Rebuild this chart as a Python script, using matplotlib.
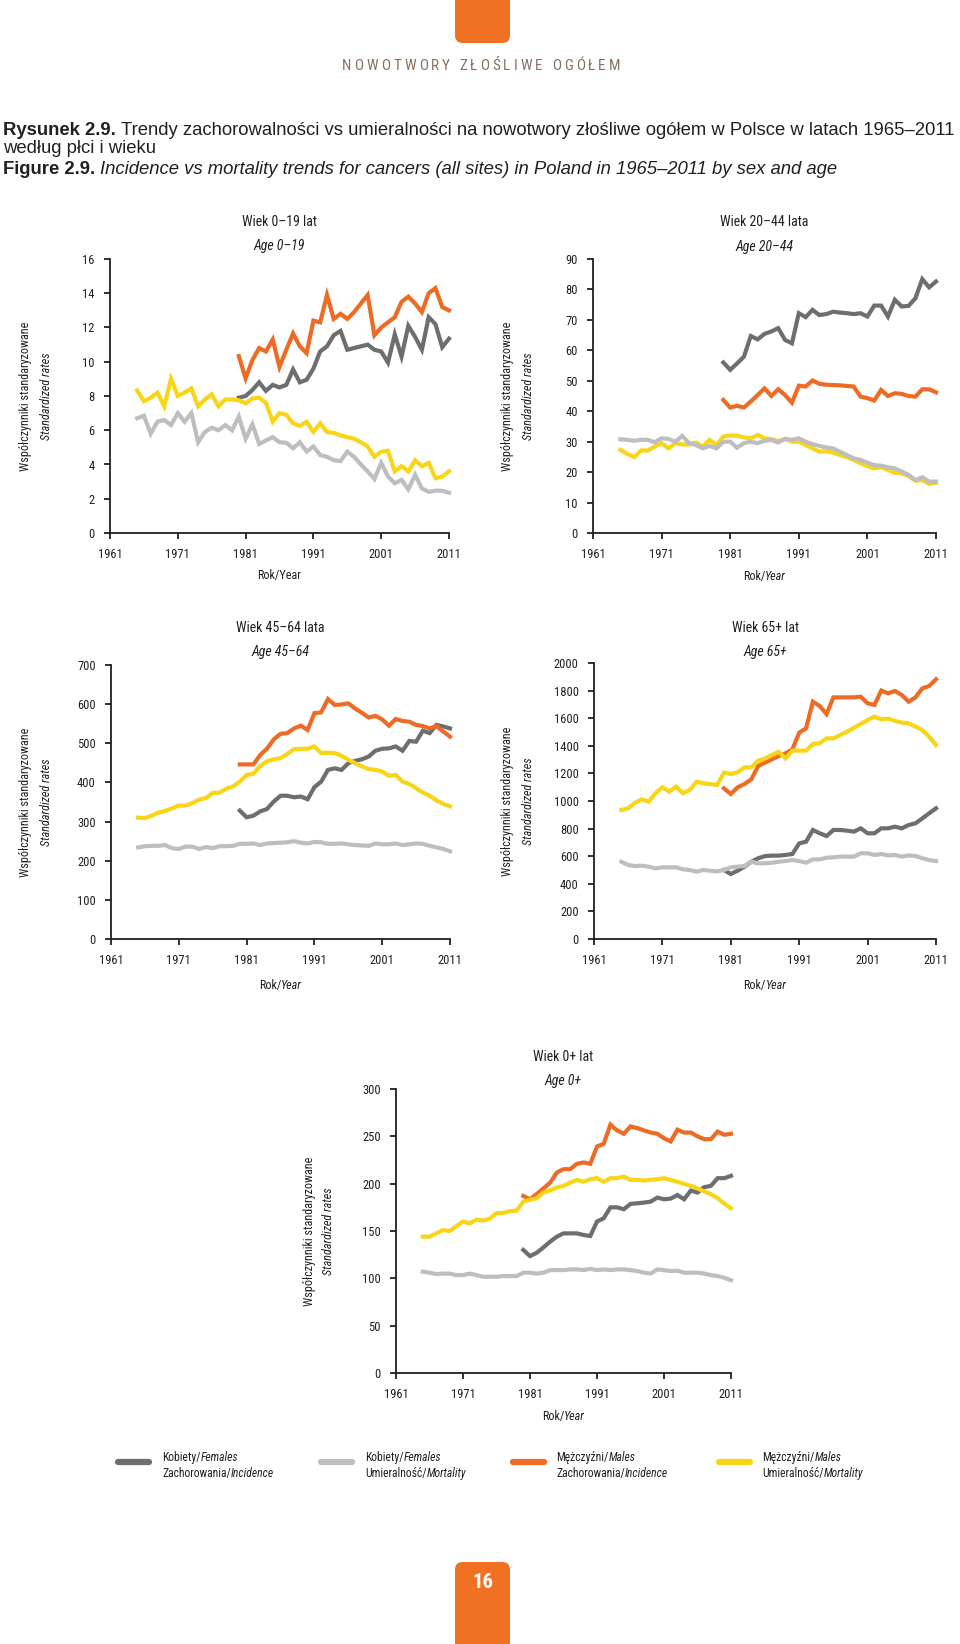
import matplotlib
matplotlib.use('Agg')
import matplotlib.pyplot as plt
from matplotlib import font_manager as fm
from matplotlib.patches import FancyBboxPatch
from matplotlib.lines import Line2D

# ---------------- data ----------------
years_mort = list(range(1965, 2012))   # 47 years
years_inc = list(range(1980, 2012))    # 32 years

# Age 0-19
f_inc_0_19 = [7.9, 8.0, 8.35, 8.8, 8.3, 8.65, 8.5, 8.65, 9.55, 8.8, 8.95, 9.6, 10.6, 10.9, 11.55, 11.8,
              10.7, 10.8, 10.9, 11.0, 10.7, 10.6, 9.95, 11.6, 10.3, 12.1, 11.45, 10.7, 12.6, 12.2, 10.85, 11.35]
f_mort_0_19 = [6.7, 6.85, 5.8, 6.5, 6.6, 6.3, 7.0, 6.5, 7.0, 5.3, 5.9, 6.15, 6.0, 6.3, 6.0,
               6.8, 5.5, 6.35, 5.2, 5.4, 5.6, 5.3, 5.27, 4.95, 5.3, 4.75, 5.05, 4.55, 4.45, 4.25, 4.2,
               4.75, 4.45, 4.0, 3.6, 3.15, 4.1, 3.3, 2.9, 3.1, 2.55, 3.4, 2.6, 2.4, 2.47, 2.47, 2.35]
m_inc_0_19 = [10.33, 9.03, 10.1, 10.8, 10.6, 11.3, 9.7, 10.7, 11.65, 10.9, 10.5, 12.4, 12.3, 13.9, 12.5, 12.8,
              12.5, 12.9, 13.4, 13.9, 11.55, 12.0, 12.3, 12.6, 13.5, 13.8, 13.4, 12.9, 14.0, 14.3, 13.2, 13.0]
m_mort_0_19 = [8.33, 7.7, 7.9, 8.2, 7.4, 9.0, 8.0, 8.2, 8.45, 7.4, 7.8, 8.1, 7.4, 7.8, 7.8,
               7.75, 7.57, 7.85, 7.9, 7.6, 6.5, 7.0, 6.9, 6.4, 6.25, 6.5, 5.9, 6.4, 5.9, 5.85, 5.7,
               5.6, 5.5, 5.3, 5.05, 4.45, 4.75, 4.8, 3.6, 3.9, 3.6, 4.25, 3.9, 4.1, 3.2, 3.3, 3.6]

# Age 20-44
f_inc_20_44 = [56.0, 53.6, 55.7, 57.9, 64.7, 63.6, 65.4, 66.2, 67.3, 63.4, 62.3, 72.2, 70.9, 73.3, 71.6, 71.9,
               72.7, 72.4, 72.2, 71.9, 72.2, 71.1, 74.7, 74.7, 71.1, 76.6, 74.4, 74.6, 77.1, 83.4, 80.7, 82.6]
f_mort_20_44 = [30.8, 30.6, 30.3, 30.6, 30.6, 29.8, 31.1, 30.9, 30.0, 31.9, 29.5, 28.9, 27.8, 28.6, 27.8,
                30.0, 30.0, 28.0, 29.5, 30.0, 29.5, 30.3, 30.6, 29.7, 30.9, 30.6, 31.1, 30.0, 29.2, 28.6, 28.1,
                27.8, 26.7, 25.6, 24.5, 24.0, 23.1, 22.3, 22.1, 21.6, 21.2, 20.2, 19.1, 17.4, 18.3, 16.9, 16.9]
m_inc_20_44 = [43.7, 41.2, 41.8, 41.2, 43.2, 45.3, 47.5, 45.0, 47.2, 45.3, 42.8, 48.4, 48.1, 50.1, 49.0, 48.7,
               48.6, 48.5, 48.3, 48.1, 44.8, 44.3, 43.5, 47.0, 45.0, 45.9, 45.7, 45.0, 44.8, 47.2, 47.2, 46.2]
m_mort_20_44 = [27.3, 26.0, 24.9, 27.1, 27.1, 28.4, 29.5, 27.8, 29.5, 29.1, 29.1, 29.7, 28.4, 30.6, 28.9,
                31.7, 32.0, 32.0, 31.4, 31.1, 32.2, 31.1, 30.8, 30.2, 30.9, 30.0, 30.0, 28.9, 27.8, 26.7, 26.9,
                26.4, 25.6, 24.9, 24.0, 22.9, 22.0, 21.2, 21.6, 20.7, 19.8, 19.6, 18.7, 17.2, 17.4, 16.1, 16.5]

# Age 45-64
f_inc_45_64 = [328, 311, 315, 326, 332, 351, 366, 366, 362, 364, 357, 388, 402, 432, 436, 432,
               449, 455, 459, 466, 481, 486, 487, 492, 481, 506, 504, 532, 526, 547, 543, 538]
f_mort_45_64 = [234, 237, 238, 238, 240, 232, 230, 236, 236, 230, 235, 232, 237, 237, 238,
                243, 243, 244, 240, 244, 245, 246, 247, 250, 246, 244, 248, 247, 243, 243, 244,
                242, 240, 239, 238, 244, 242, 242, 244, 240, 242, 244, 243, 238, 234, 230, 224]
m_inc_45_64 = [446, 446, 446, 470, 486, 510, 524, 526, 538, 545, 534, 577, 579, 613, 598, 599,
               602, 589, 578, 566, 570, 561, 545, 562, 557, 555, 547, 544, 538, 544, 530, 517]
m_mort_45_64 = [310, 309, 315, 323, 327, 334, 341, 341, 347, 356, 360, 373, 374, 384, 390,
                402, 419, 422, 442, 454, 459, 462, 473, 485, 486, 486, 492, 475, 476, 475, 468,
                458, 449, 441, 434, 432, 428, 417, 419, 402, 396, 385, 374, 366, 354, 345, 339]

# Age 65+
f_inc_65 = [500, 471, 495, 524, 560, 585, 601, 604, 604, 609, 616, 693, 705, 790, 766, 746,
            790, 790, 785, 778, 802, 766, 766, 802, 802, 814, 802, 826, 838, 874, 911, 947]
f_mort_65 = [560, 536, 529, 531, 524, 512, 519, 519, 519, 505, 500, 488, 500, 495, 490,
             500, 519, 524, 529, 560, 548, 548, 553, 560, 565, 572, 565, 553, 577, 577, 589,
             592, 597, 597, 597, 621, 621, 609, 616, 606, 609, 597, 606, 601, 585, 572, 565]
m_inc_65 = [1092, 1051, 1099, 1123, 1157, 1254, 1278, 1302, 1326, 1345, 1374, 1495, 1527, 1720, 1688, 1630,
            1751, 1751, 1751, 1751, 1756, 1708, 1696, 1800, 1780, 1797, 1768, 1720, 1751, 1816, 1833, 1882]
m_mort_65 = [935, 947, 988, 1012, 995, 1056, 1099, 1068, 1104, 1056, 1080, 1140, 1128, 1123, 1116,
             1205, 1196, 1208, 1244, 1244, 1292, 1309, 1333, 1357, 1309, 1365, 1365, 1365, 1413, 1418, 1454,
             1454, 1478, 1502, 1531, 1558, 1587, 1611, 1592, 1597, 1580, 1568, 1563, 1539, 1514, 1466, 1406]

# Age 0+
f_inc_0 = [130, 123.5, 127, 132.7, 138.7, 144, 147.5, 147.5, 147.5, 145.8, 144.7, 160, 163.4, 175, 175, 173,
           178.6, 179.3, 180, 181, 185.3, 183.5, 184.2, 188, 183.5, 192.7, 190.6, 196.3, 197.7, 205.8, 205.8, 208.3]
f_mort_0 = [107, 106, 104.5, 105, 105, 103.4, 103.4, 105, 103.4, 101.7, 101.7, 101.7, 102.4, 102.4, 102.4,
            106, 106, 105, 106, 108.7, 108.7, 108.7, 109.4, 109.4, 108.7, 110, 108.7, 109.4, 108.7, 109.4, 109.4,
            108.7, 107.7, 106, 105, 109.4, 108.7, 107.7, 108, 106, 106, 106, 105, 103.4, 102.4, 100.6, 98]
m_inc_0 = [187, 183.5, 189, 195, 201, 211.8, 215.3, 215.3, 221, 222.4, 221, 239.3, 242, 262.3, 256.3, 252.7,
           260.5, 258.7, 256.3, 254, 252.7, 248, 244.6, 257, 254, 254, 250, 247, 247, 255, 251.7, 252.7]
m_mort_0 = [144, 144, 147.5, 151, 150, 155, 160, 158, 162, 161, 163, 169, 169, 171, 171.5,
            181, 183, 184.6, 190.6, 192.7, 196, 197.7, 201, 204, 202, 204.7, 205.8, 202, 205.8, 205.8, 207.5,
            204, 204, 203.3, 204, 204.7, 205.8, 204, 202, 199.8, 197.7, 195, 191.7, 189, 184.6, 179, 174]

x_ticks = [1961, 1971, 1981, 1991, 2001, 2011]

panel_titles = ['Wiek 0\u201319 lat', 'Wiek 20\u201344 lata', 'Wiek 45\u201364 lata', 'Wiek 65+ lat', 'Wiek 0+ lat']
panel_subtitles = ['Age 0\u201319', 'Age 20\u201344', 'Age 45\u201364', 'Age 65+', 'Age 0+']
legend_line1 = [('Kobiety/', 'Females'), ('Kobiety/', 'Females'),
                ('M\u0119\u017cczy\u017ani/', 'Males'), ('M\u0119\u017cczy\u017ani/', 'Males')]
legend_line2 = [('Zachorowania/', 'Incidence'), ('Umieralno\u015b\u0107/', 'Mortality'),
                ('Zachorowania/', 'Incidence'), ('Umieralno\u015b\u0107/', 'Mortality')]

# ---------------- style ----------------
def pick_font(cands):
    for c in cands:
        try:
            fm.findfont(fm.FontProperties(family=c), fallback_to_default=False)
            return c
        except Exception:
            pass
    return 'DejaVu Sans'

FONT = pick_font(['Liberation Sans Narrow', 'Roboto Condensed', 'Liberation Sans'])
CAP_FONT = pick_font(['Liberation Sans', 'Roboto'])
plt.rcParams['font.family'] = [FONT, 'DejaVu Sans']

C_FINC = '#6d6e70'
C_FMORT = '#bdbec0'
C_MINC = '#ee6b25'
C_MMORT = '#f8d517'
C_AX = '#231f20'
C_ORANGE = '#f07124'
LW = 3.0

W, H = 960, 1644
fig = plt.figure(figsize=(W / 100, H / 100), dpi=100)
renderer = fig.canvas.get_renderer()


def fx(px):
    return px / W


def fy(py):
    return (H - py) / H


def measure(s, props):
    t = fig.text(0, 0, '|' + s + '|', **props)
    w = t.get_window_extent(renderer).width
    t.remove()
    t2 = fig.text(0, 0, '||', **props)
    w2 = t2.get_window_extent(renderer).width
    t2.remove()
    return w - w2


def rich(px, py, pieces, ha='left', va='baseline', draw=True):
    widths = [measure(s, p) for s, p in pieces]
    total = sum(widths)
    if not draw:
        return total
    if ha == 'center':
        x0 = px - total / 2
    elif ha == 'right':
        x0 = px - total
    else:
        x0 = px
    for (s, p), w in zip(pieces, widths):
        lead = len(s) - len(s.lstrip(' '))
        off = measure(' ' * lead, p) if lead else 0
        fig.text(fx(x0 + off), fy(py), s.strip(' '), ha='left', va=va, **p)
        x0 += w
    return total


def spaced(pxc, py, s, props, extra):
    widths = [measure(ch, props) for ch in s]
    total = sum(widths) + extra * (len(s) - 1)
    x0 = pxc - total / 2
    for ch, w in zip(s, widths):
        if ch != ' ':
            fig.text(fx(x0), fy(py), ch, ha='left', va='baseline', **props)
        x0 += w + extra


# ---------------- header ----------------
hdr = FancyBboxPatch((fx(455), fy(43)), fx(510) - fx(455), fy(-20) - fy(43),
                     boxstyle='round,pad=0,rounding_size=0.008', transform=fig.transFigure,
                     facecolor=C_ORANGE, edgecolor='none', mutation_aspect=W / H)
fig.patches.append(hdr)
spaced(481, 70, 'NOWOTWORY Z\u0141O\u015aLIWE OG\u00d3\u0141EM', dict(fontsize=11, color='#8a6f5f'), 3.0)

cap_line1_a = 'Rysunek 2.9.'
cap_line1_b = ' Trendy zachorowalno\u015bci vs umieralno\u015bci na nowotwory z\u0142o\u015bliwe og\u00f3\u0142em w Polsce w latach 1965\u20132011'
base = dict(fontsize=12, color='#231f20', family=[CAP_FONT, 'DejaVu Sans'])
w12 = rich(3, 0, [(cap_line1_a, dict(base, weight='bold')), (cap_line1_b, base)], draw=False)
cap_size = 12 * (952.0 / w12)
cap = dict(base, fontsize=cap_size)
rich(3, 135, [(cap_line1_a, dict(cap, weight='bold')), (cap_line1_b, cap)])
rich(3, 153, [('wed\u0142ug p\u0142ci i wieku', cap)])
rich(3, 174, [('Figure 2.9.', dict(cap, weight='bold')),
              (' Incidence vs mortality trends for cancers (all sites) in Poland in 1965\u20132011 by sex and age',
               dict(cap, style='italic'))])

# ---------------- panels ----------------
panels = [
    dict(rect=(110, 449, 259, 533), ymax=16, step=2, data=(f_inc_0_19, f_mort_0_19, m_inc_0_19, m_mort_0_19),
         yl=(26, 47), t=(222, 246), xl=576, italic_year=False),
    dict(rect=(593, 936, 259, 533), ymax=90, step=10, data=(f_inc_20_44, f_mort_20_44, m_inc_20_44, m_mort_20_44),
         yl=(508, 528), t=(222, 247), xl=576, italic_year=True),
    dict(rect=(111, 450, 665, 939), ymax=700, step=100, data=(f_inc_45_64, f_mort_45_64, m_inc_45_64, m_mort_45_64),
         yl=(26, 47), t=(628, 652), xl=985, italic_year=True),
    dict(rect=(594, 936, 663, 939), ymax=2000, step=200, data=(f_inc_65, f_mort_65, m_inc_65, m_mort_65),
         yl=(508, 528), t=(628, 652), xl=985, italic_year=True),
    dict(rect=(396, 731, 1089, 1373), ymax=300, step=50, data=(f_inc_0, f_mort_0, m_inc_0, m_mort_0),
         yl=(310, 329), t=(1057, 1081), xl=1416, italic_year=True),
]

for i, p in enumerate(panels):
    l, r, t, b = p['rect']
    ax = fig.add_axes([fx(l), fy(b), fx(r) - fx(l), fy(t) - fy(b)])
    fi, fmo, mi, mmo = p['data']
    ax.plot(years_inc, fi, color=C_FINC, lw=LW, solid_joinstyle='miter', clip_on=False, zorder=3)
    ax.plot(years_inc, mi, color=C_MINC, lw=LW, solid_joinstyle='miter', clip_on=False, zorder=4)
    ax.plot(years_mort, mmo, color=C_MMORT, lw=LW, solid_joinstyle='miter', clip_on=False, zorder=5)
    ax.plot(years_mort, fmo, color=C_FMORT, lw=LW, solid_joinstyle='miter', clip_on=False, zorder=6)
    ax.set_xlim(1961, 2011)
    ax.set_ylim(0, p['ymax'])
    ax.set_xticks(x_ticks)
    ax.set_yticks(list(range(0, p['ymax'] + 1, p['step'])))
    for s in ('top', 'right'):
        ax.spines[s].set_visible(False)
    for s in ('left', 'bottom'):
        ax.spines[s].set_color(C_AX)
        ax.spines[s].set_linewidth(1.3)
    ax.tick_params(axis='both', direction='out', length=4, width=1.3, color=C_AX,
                   labelsize=9, labelcolor=C_AX, pad=7)
    ax.set_facecolor('none')
    cx = (l + r) / 2
    fig.text(fx(cx), fy(p['t'][0]), panel_titles[i], ha='center', va='center', fontsize=10, color=C_AX)
    fig.text(fx(cx), fy(p['t'][1]), panel_subtitles[i], ha='center', va='center', fontsize=10,
             style='italic', color=C_AX)
    if p['italic_year']:
        rich(cx, p['xl'] + 4, [('Rok/', dict(fontsize=8.7, color=C_AX)),
                                ('Year', dict(fontsize=8.7, color=C_AX, style='italic'))], ha='center')
    else:
        fig.text(fx(cx), fy(p['xl']), 'Rok/Year', ha='center', va='center', fontsize=8.7, color=C_AX)
    cy = (t + b) / 2
    fig.text(fx(p['yl'][0]), fy(cy), 'Wsp\u00f3\u0142czynniki standaryzowane', rotation=90,
             ha='center', va='center', fontsize=8.7, color=C_AX)
    fig.text(fx(p['yl'][1]), fy(cy), 'Standardized rates', rotation=90, style='italic',
             ha='center', va='center', fontsize=8.7, color=C_AX)

# ---------------- legend ----------------
leg_colors = [C_FINC, C_FMORT, C_MINC, C_MMORT]
leg_x = [115, 318, 510, 716]
leg_text_x = [162, 365, 556, 762]
lp = dict(fontsize=8.4, color=C_AX)
for k in range(4):
    fig.lines.append(Line2D([fx(leg_x[k] + 3), fx(leg_x[k] + 34)], [fy(1462), fy(1462)],
                            transform=fig.transFigure, color=leg_colors[k], lw=4.5,
                            solid_capstyle='round'))
    rich(leg_text_x[k], 1461, [(legend_line1[k][0], lp), (legend_line1[k][1], dict(lp, style='italic'))])
    rich(leg_text_x[k], 1477, [(legend_line2[k][0], lp), (legend_line2[k][1], dict(lp, style='italic'))])

# ---------------- page number ----------------
pg = FancyBboxPatch((fx(455), fy(1670)), fx(510) - fx(455), fy(1562) - fy(1670),
                    boxstyle='round,pad=0,rounding_size=0.008', transform=fig.transFigure,
                    facecolor=C_ORANGE, edgecolor='none', mutation_aspect=W / H)
fig.patches.append(pg)
fig.text(fx(482.5), fy(1582), '16', ha='center', va='center', fontsize=15, weight='bold', color='white')

fig.savefig('out.png', dpi=100)
